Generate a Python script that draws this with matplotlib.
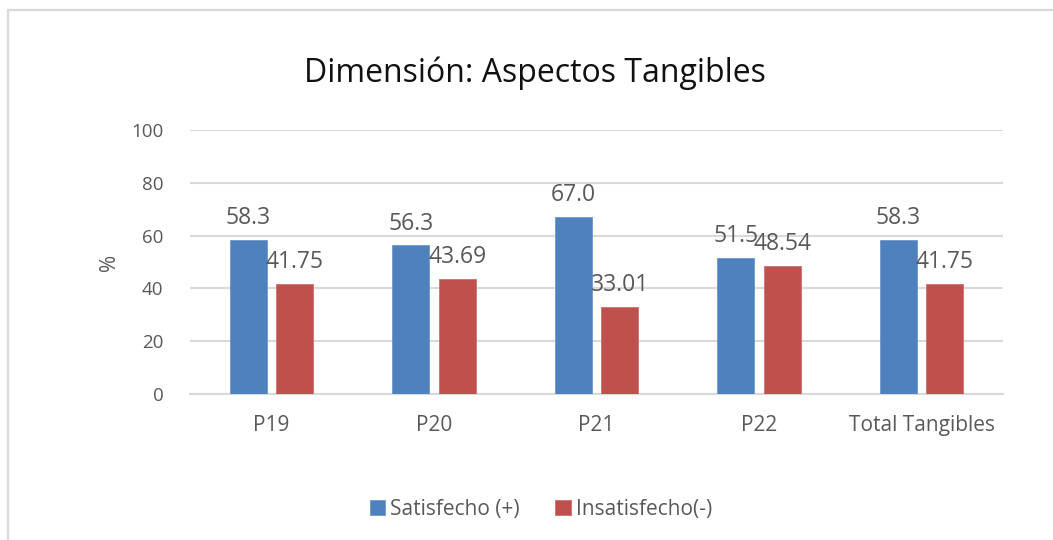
import matplotlib
matplotlib.use("Agg")
import matplotlib.pyplot as plt
import numpy as np
from matplotlib.patches import Rectangle

categories = ["P19", "P20", "P21", "P22", "Total Tangibles"]
satisfecho = [58.3, 56.3, 67.0, 51.5, 58.3]
insatisfecho = [41.75, 43.69, 33.01, 48.54, 41.75]
sat_labels = ["58.3", "56.3", "67.0", "51.5", "58.3"]
insat_labels = ["41.75", "43.69", "33.01", "48.54", "41.75"]
yticks = [0, 20, 40, 60, 80, 100]

BLUE = "#4F81BD"
RED = "#C0504D"
GRID = "#D9D9D9"
TXT = "#595959"
FONT = "Open Sans"

plt.rcParams["font.family"] = [FONT, "DejaVu Sans"]

fig = plt.figure(figsize=(10.53, 5.40), dpi=100)
W, H = 1053, 540

# chart frame
fig.patches.append(Rectangle((8 / W, -0.1), 1.2, (H - 10) / H + 0.1,
                             transform=fig.transFigure, fill=False,
                             edgecolor="#D9D9D9", linewidth=1.6))

left, right, top, bottom = 190, 1003, 130, 394
ax = fig.add_axes([left / W, 1 - bottom / H, (right - left) / W, (bottom - top) / H])

x = np.arange(len(categories))
w = 0.228
off = 0.143
b1 = ax.bar(x - off, satisfecho, w, color=BLUE, edgecolor="#6F97CB", linewidth=0.6,
            label="Satisfecho (+)", zorder=3)
b2 = ax.bar(x + off, insatisfecho, w, color=RED, edgecolor="#CC7070", linewidth=0.6,
            label="Insatisfecho(-)", zorder=3)

for bars, labels in ((b1, sat_labels), (b2, insat_labels)):
    for rect, lab in zip(bars, labels):
        ax.annotate(lab, (rect.get_x() + rect.get_width() / 2, rect.get_height()),
                    xytext=(0, 7.0), textcoords="offset points", ha="center", va="bottom",
                    fontsize=16.5, color=TXT, zorder=4)

ax.set_xlim(-0.5, len(categories) - 0.5)
ax.set_ylim(0, 100)
ax.set_yticks(yticks)
ax.set_yticklabels([str(t) for t in yticks])
ax.set_xticks(x)
ax.set_xticklabels(categories)
ax.yaxis.grid(True, color=GRID, linewidth=1.5, zorder=0)
ax.set_axisbelow(True)
for s in ("top", "right", "left"):
    ax.spines[s].set_visible(False)
ax.spines["bottom"].set_color(GRID)
ax.spines["bottom"].set_linewidth(1.5)
ax.tick_params(axis="y", length=0, labelsize=13.5, labelcolor=TXT, pad=19)
ax.tick_params(axis="x", length=0, labelsize=15, labelcolor=TXT, pad=15)
ax.set_ylabel("%", fontsize=15, color=TXT, labelpad=8)

fig.text(535 / W, 1 - 73 / H, "Dimensión: Aspectos Tangibles", ha="center", va="center",
         fontsize=23, color="#111111")

fig.legend(handles=[b1, b2], loc="center", bbox_to_anchor=(541 / W, 1 - 509 / H),
           ncol=2, frameon=False, fontsize=15, labelcolor=TXT,
           handlelength=0.75, handleheight=0.75, handletextpad=0.25, columnspacing=1.7)

fig.savefig("out.png", dpi=100)
